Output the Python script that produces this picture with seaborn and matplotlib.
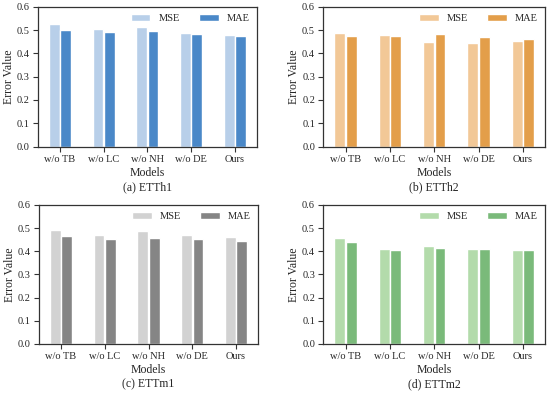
import matplotlib
matplotlib.use("Agg")
import matplotlib.pyplot as plt
import pandas as pd
import seaborn as sns

sns.set_style("ticks")
plt.rcParams['font.family'] = ['Liberation Serif', 'DejaVu Serif']
plt.rcParams['font.size'] = 7.5

models = ['w/o TB', 'w/o LC', 'w/o NH', 'w/o DE', 'Ours']

etth1_mse = [0.524, 0.503, 0.513, 0.489, 0.478]
etth1_mae = [0.499, 0.490, 0.496, 0.481, 0.476]
etth2_mse = [0.486, 0.478, 0.448, 0.444, 0.451]
etth2_mae = [0.473, 0.476, 0.481, 0.468, 0.460]
ettm1_mse = [0.493, 0.471, 0.486, 0.470, 0.463]
ettm1_mae = [0.466, 0.451, 0.458, 0.451, 0.445]
ettm2_mse = [0.455, 0.408, 0.421, 0.411, 0.406]
ettm2_mae = [0.441, 0.405, 0.415, 0.408, 0.404]

titles = ['(a) ETTh1', '(b) ETTh2', '(c) ETTm1', '(d) ETTm2']
colors = [('#b8cfe9', '#4a88c8'), ('#f2c897', '#e39e4a'),
          ('#d2d2d2', '#858585'), ('#b3dbab', '#7aba7a')]
series = [(etth1_mse, etth1_mae), (etth2_mse, etth2_mae),
          (ettm1_mse, ettm1_mae), (ettm2_mse, ettm2_mae)]

# axes boxes in figure fractions
boxes = [[0.069, 0.628, 0.398, 0.355], [0.588, 0.628, 0.403, 0.355],
         [0.071, 0.127, 0.398, 0.353], [0.588, 0.127, 0.403, 0.353]]

fig = plt.figure(figsize=(5.5, 3.94), dpi=100)
fig.patch.set_facecolor("white")

for i in range(4):
    ax = fig.add_axes(boxes[i])
    mse, mae = series[i]
    df = pd.DataFrame({'Models': models * 2,
                       'Error Value': mse + mae,
                       'Metric': ['MSE'] * 5 + ['MAE'] * 5})
    sns.barplot(data=df, x='Models', y='Error Value', hue='Metric',
                palette=list(colors[i]), width=0.52, gap=0.05,
                saturation=1, ax=ax)
    ax.set_ylim(0, 0.6)
    ax.set_yticks([0.0, 0.1, 0.2, 0.3, 0.4, 0.5, 0.6])
    ax.set_xlim(-0.5, 4.5)
    ax.set_xlabel('Models', fontsize=8.5, labelpad=2)
    ax.set_ylabel('Error Value', fontsize=8.5, labelpad=1.5)
    ax.tick_params(labelsize=7.5, length=3.5, width=0.8, pad=2.5, color='#333333')
    for s in ax.spines.values():
        s.set_color('#333333')
        s.set_linewidth(0.9)
    ax.legend(loc='upper right', ncol=2, frameon=False, fontsize=7.5,
              handlelength=1.9, handleheight=0.6, handletextpad=0.75,
              columnspacing=1.85, borderaxespad=0.3)
    ax.text(0.5, -0.29, titles[i], transform=ax.transAxes, ha='center',
            va='center', fontsize=8.5)

fig.savefig('out.png', dpi=100)
